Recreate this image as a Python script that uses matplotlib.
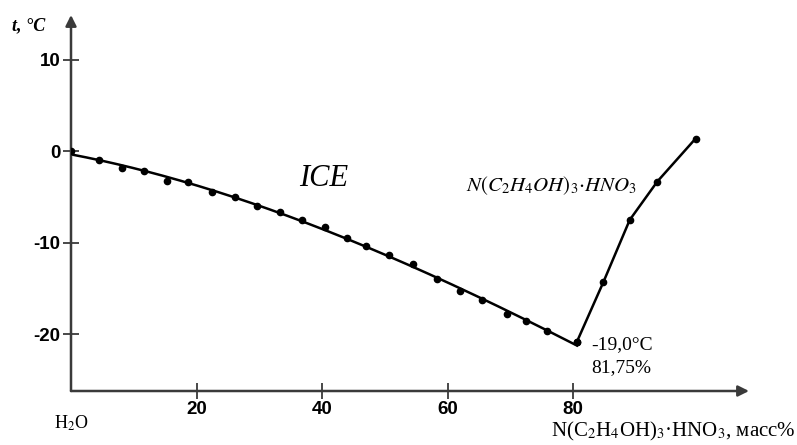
import numpy as np
import matplotlib
matplotlib.use('Agg')
import matplotlib.pyplot as plt
from matplotlib.ticker import FixedLocator

plt.rcParams['mathtext.fontset'] = 'stix'
plt.rcParams['axes.unicode_minus'] = False

# ice branch (mass %, t °C)
ice_x = [0, 4.4, 8.1, 11.7, 15.3, 18.7, 22.5, 26.2, 29.6, 33.3, 36.8, 40.5,
         43.9, 47.0, 50.7, 54.5, 58.3, 62.0, 65.4, 69.5, 72.5, 75.8, 80.6]
ice_t = [0, -0.9, -1.8, -2.2, -3.2, -3.4, -4.4, -5.0, -6.0, -6.6, -7.5, -8.3,
         -9.5, -10.4, -11.3, -12.3, -14.0, -15.3, -16.2, -17.8, -18.6, -19.6, -20.8]
# salt branch
salt_x = [80.6, 84.8, 89.0, 93.4, 99.5]
salt_t = [-20.8, -14.3, -7.5, -3.3, 1.4]

xticks = [20, 40, 60, 80]
yticks = [-20, -10, 0, 10]

AX = '#3a3a3a'
SANS = 'Liberation Sans'
SERIF = 'Liberation Serif'

fig = plt.figure(figsize=(7.97, 4.45), dpi=100)
ax = fig.add_axes([71 / 797, 54 / 445, 678 / 797, 376 / 445])
ax.set_xlim(0, 108)
ax.set_ylim(-26.2, 14.9)

# smooth fitted liquidus for ice, polyline for the salt branch
c = np.polyfit(ice_x, ice_t, 3)
xs = np.linspace(ice_x[0], ice_x[-1], 200)
ax.plot(xs, np.polyval(c, xs), color='black', lw=1.8, zorder=3)
ax.plot(salt_x, salt_t, color='black', lw=1.8, zorder=3)
ax.plot(ice_x, ice_t, 'o', color='black', ms=4.5, zorder=4)
ax.plot(salt_x, salt_t, 'o', color='black', ms=4.5, zorder=4)

# axes with arrows
for s in ax.spines.values():
    s.set_visible(False)
ax.annotate('', xy=(1, 0), xytext=(0, 0), xycoords='axes fraction',
            arrowprops=dict(arrowstyle='-|>', color=AX, lw=1.8, mutation_scale=16,
                            shrinkA=0, shrinkB=0))
ax.annotate('', xy=(0, 1), xytext=(0, 0), xycoords='axes fraction',
            arrowprops=dict(arrowstyle='-|>', color=AX, lw=1.8, mutation_scale=16,
                            shrinkA=0, shrinkB=0))

ax.xaxis.set_major_locator(FixedLocator(xticks))
ax.yaxis.set_major_locator(FixedLocator(yticks))
ax.tick_params(direction='inout', length=12, width=1.3, color=AX, pad=1.5)
for lab in ax.get_xticklabels() + ax.get_yticklabels():
    lab.set_fontfamily(SANS)
    lab.set_fontweight('bold')
    lab.set_fontsize(13.5)

# labels
fig.text(12 / 797, 1 - 26 / 445, r't, °C', family=SERIF, style='italic',
         weight='bold', fontsize=13, va='center', ha='left')
ax.text(0, -0.085, r'H$_2$O', transform=ax.transAxes, family=SERIF,
        fontsize=13, ha='center', va='center')
fig.text(796 / 797, 1 - 431 / 445, r'N(C$_2$H$_4$OH)$_3$·HNO$_3$, масс%',
         family=SERIF, fontsize=15, ha='right', va='center')
ax.text(40.2, -3.0, 'ICE', family=SERIF, style='italic', fontsize=22,
        ha='center', va='center')
ax.text(76.5, -3.8, r'$N(C_2H_4OH)_3{\cdot}HNO_3$', fontsize=15,
        ha='center', va='center')
ax.text(82.8, -21.1, '-19,0°C', family=SERIF, fontsize=14,
        ha='left', va='center')
ax.text(82.8, -23.6, '81,75%', family=SERIF, fontsize=14,
        ha='left', va='center')

fig.savefig('out.png', dpi=100)
